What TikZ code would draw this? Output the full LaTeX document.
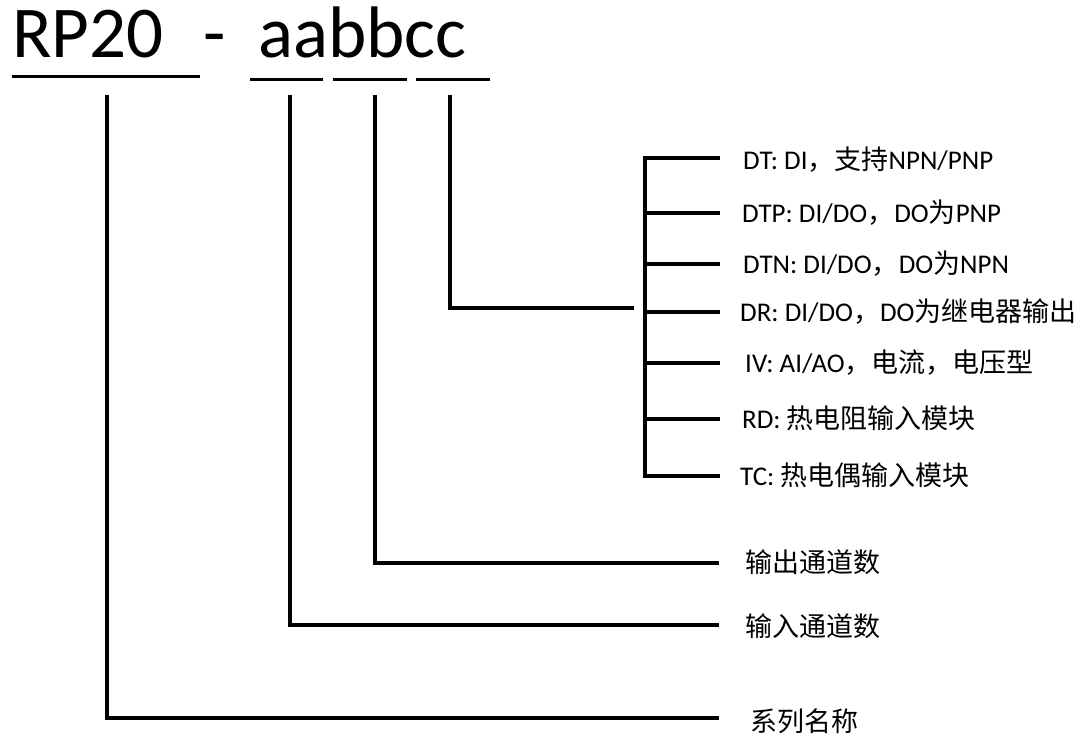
\documentclass[tikz,border=0pt]{standalone}
\usepackage{fontspec}
\setmainfont{Carlito}
\newfontfamily\cjk{Noto Sans CJK SC}
\newcommand{\zh}[1]{{\cjk #1}}
\begin{document}
\begin{tikzpicture}[x=1pt,y=-1pt,
  conn/.style={line width=3.5pt, line join=miter, line cap=rect},
  uline/.style={line width=3pt},
  lbl/.style={anchor=west, inner sep=0pt, text height=20pt, text depth=5pt, yshift=-2pt, font=\fontsize{27}{30}\selectfont},
  ttl/.style={anchor=base west, inner sep=0pt, font=\fontsize{73}{80}\selectfont}]
\useasboundingbox (0,0) rectangle (1090,740);
% title
\node[ttl] (rp) at (12,57) {RP20};
\node[ttl] (dash) at (203,57) {-};
\node[ttl] (code) at (258,57) {aabbcc};
\draw[uline] (12,76) -- (200,76);
\draw[uline] (250,79) -- (323,79);
\draw[uline] (333,79) -- (407,79);
\draw[uline] (416,79) -- (490,79);
% starting points
\coordinate (sRP) at (107,97);
\coordinate (sA) at (290,97);
\coordinate (sB) at (375,97);
\coordinate (sC) at (450,97);
% bottom labels
\node[lbl] (outn) at (745,563) {\zh{输出通道数}};
\node[lbl] (inn) at (745,627) {\zh{输入通道数}};
\node[lbl] (series) at (750,722) {\zh{系列名称}};
\coordinate (eB) at (717,563);
\coordinate (eA) at (717,625);
\coordinate (eRP) at (717,718);
\draw[conn] (sRP) |- (eRP);
\draw[conn] (sA) |- (eA);
\draw[conn] (sB) |- (eB);
% type labels
\node[lbl] (dt) at (743,160) {DT: DI\zh{，支持}NPN/PNP};
\node[lbl] (dtp) at (742,213) {DTP: DI/DO\zh{，}DO\zh{为}PNP};
\node[lbl] (dtn) at (743,264) {DTN: DI/DO\zh{，}DO\zh{为}NPN};
\node[lbl] (dr) at (740,312) {DR: DI/DO\zh{，}DO\zh{为继电器输出}};
\node[lbl] (iv) at (745,363) {IV: AI/AO\zh{，电流，电压型}};
\node[lbl] (rd) at (742,419) {RD: \zh{热电阻输入模块}};
\node[lbl] (tc) at (740,476) {TC: \zh{热电偶输入模块}};
% bracket
\coordinate (bTop) at (645,158);
\coordinate (bBot) at (645,476);
\draw[conn] (bTop) -- (bBot);
\foreach \y in {158,213,264,312,363,419,476}
  \draw[conn] (645,\y) -- (718,\y);
\coordinate (eC) at (632,308);
\draw[conn] (sC) |- (eC);
\end{tikzpicture}
\end{document}
